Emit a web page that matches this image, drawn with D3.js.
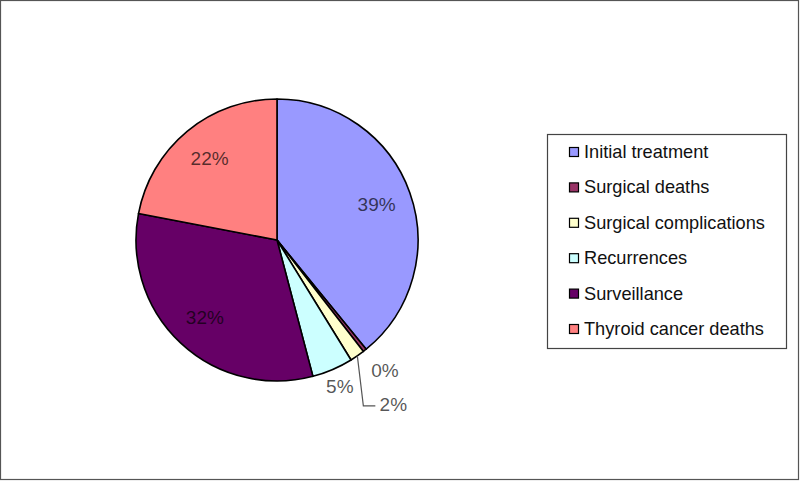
<!DOCTYPE html>
<html>
<head>
<meta charset="utf-8">
<script src="https://cdn.jsdelivr.net/npm/d3@7/dist/d3.min.js"></script>
<style>
  html, body { margin: 0; padding: 0; background: #fff; }
  svg { display: block; }
  text { font-family: "Liberation Sans", Arial, sans-serif; }
</style>
</head>
<body>
<svg id="chart" width="800" height="481"></svg>
<script>
// ---- data ----
const categories = ["Initial treatment", "Surgical deaths", "Surgical complications", "Recurrences", "Surveillance", "Thyroid cancer deaths"];
const values = [39.1, 0.4, 1.7, 4.7, 32.1, 22.0];
const labels = ["39%", "0%", "2%", "5%", "32%", "22%"];
const colors = ["#9999FF", "#993366", "#FFFFCC", "#CCFFFF", "#660066", "#FF8080"];

const svg = d3.select("#chart");
const W = 800, H = 481;

// outer frame
svg.append("rect").attr("x", 0.5).attr("y", 0.5).attr("width", W - 2).attr("height", H - 2)
  .attr("fill", "#fff").attr("stroke", "#555").attr("stroke-width", 1.2);

const cx = 277, cy = 240, R = 141;
const g = svg.append("g").attr("transform", `translate(${cx},${cy})`);

const pie = d3.pie().sort(null).value(d => d)(values);
const arc = d3.arc().innerRadius(0).outerRadius(R);

g.selectAll("path.slice").data(pie).join("path")
  .attr("class", "slice")
  .attr("d", arc)
  .attr("fill", (d, i) => colors[i])
  .attr("stroke", "#000").attr("stroke-width", 1.6).attr("stroke-linejoin", "round");

// label placement
function polar(a, r) { return [r * Math.sin(a), -r * Math.cos(a)]; }
const fontSize = 19;
pie.forEach((d, i) => {
  const mid = (d.startAngle + d.endAngle) / 2;
  let p;
  if (i === 0 || i === 4 || i === 5) {
    p = polar(mid, R * 0.75);
  } else if (i === 3) {
    p = polar(mid, R * 1.13);
  } else if (i === 1) {
    p = [108, 130];
  } else {
    // leader line for small slice
    const e = polar(mid, R);
    const bend = [e[0] + 6, e[1] + 50];
    const end = [bend[0] + 12, bend[1]];
    g.append("path")
      .attr("d", d3.line()([e, bend, end]))
      .attr("fill", "none").attr("stroke", "#555").attr("stroke-width", 1.2);
    p = [end[0] + 18, end[1] - 1];
  }
  g.append("text")
    .attr("x", p[0]).attr("y", p[1])
    .attr("text-anchor", "middle").attr("dominant-baseline", "central")
    .attr("font-size", fontSize)
    .attr("fill", "#000").attr("fill-opacity", 0.68)
    .text(labels[i]);
});

// legend
const lg = svg.append("g");
lg.append("rect").attr("x", 547.5).attr("y", 134.5).attr("width", 239).attr("height", 214)
  .attr("fill", "#fff").attr("stroke", "#444").attr("stroke-width", 1.2);
const rowY = d3.scalePoint().domain(categories).range([152, 329]);
categories.forEach((c, i) => {
  const y = rowY(c);
  lg.append("rect").attr("x", 569.5).attr("y", y - 4.5).attr("width", 9).attr("height", 9)
    .attr("fill", colors[i]).attr("stroke", "#000").attr("stroke-width", 1.2);
  lg.append("text").attr("x", 584).attr("y", y).attr("dominant-baseline", "central")
    .attr("font-size", 18.2).attr("fill", "#111").text(c);
});
</script>
</body>
</html>
